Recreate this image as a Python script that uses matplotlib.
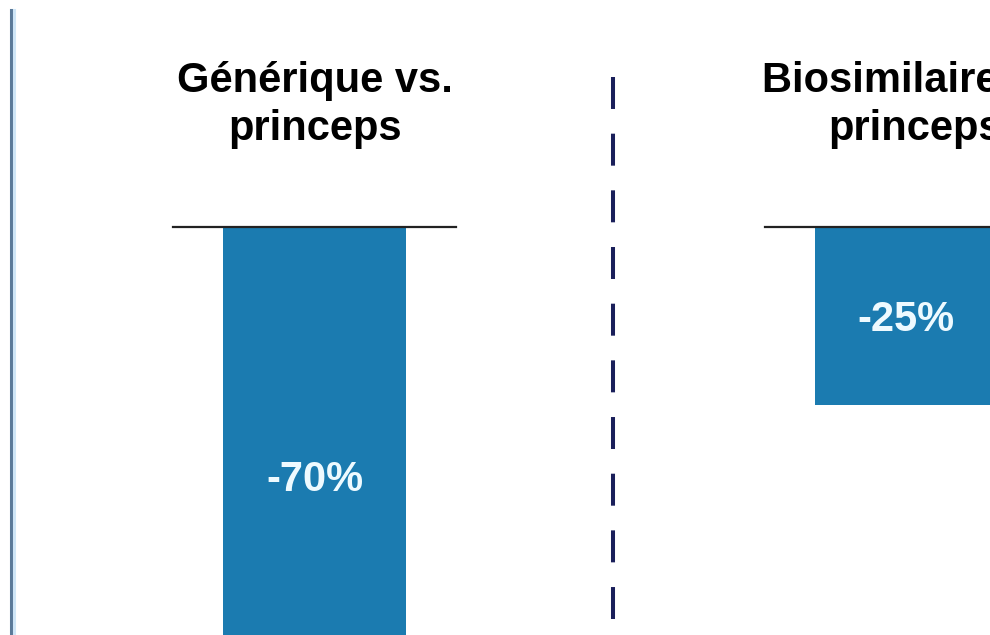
import matplotlib
matplotlib.use("Agg")
import matplotlib.pyplot as plt
from matplotlib.lines import Line2D

plt.rcParams['font.family'] = ['Liberation Sans', 'DejaVu Sans']

# écart de prix par rapport au princeps
categories = ["Générique vs.\nprinceps", "Biosimilaire vs.\nprinceps"]
ecarts = [-70, -25]
positions = [0, 1]

bar_color = '#1b7bb0'
dash_color = '#1a1f5a'

fig = plt.figure(figsize=(9.9, 6.35), dpi=100, facecolor='white')
ax = fig.add_axes([0, 0, 1, 1])
ax.set_xlim(-0.532, 1.142)
ax.set_ylim(-57.3, 31.9)
ax.axis('off')

bar_w = 0.309
line_half = 0.239
title_dx = [0, 0.015]
ax.bar(positions, ecarts, width=bar_w, color=bar_color, zorder=2)

for x, v, cat, dx in zip(positions, ecarts, categories, title_dx):
    # trait de référence à 0
    ax.plot([x - line_half, x + line_half], [0, 0], color='#222222', lw=1.6, zorder=3)
    # valeur au milieu de la barre (ligne de base décalée d'une demi-hauteur de chiffre)
    ax.text(x, v / 2 - 2.1, f"{v}%", ha='center', va='baseline', color='#eefaff',
            fontsize=30, fontweight='bold', zorder=4)
    # titre du groupe (ligne de base de la dernière ligne)
    ax.text(x + dx, 12.2, cat, ha='center', va='baseline', color='black',
            fontsize=30, fontweight='bold', linespacing=1.26)

# séparateur pointillé entre les deux groupes
ax.plot([0.5047, 0.5047], [21.1, -55.1], color=dash_color, lw=2.9,
        linestyle=(0, (7.94, 6.13)), solid_capstyle='butt', dash_capstyle='butt')

# filet vertical à gauche
fig.add_artist(Line2D([10.5 / 990, 10.5 / 990], [0, 1 - 10 / 635],
                      transform=fig.transFigure, color='#5b7a99', lw=2.2))
fig.add_artist(Line2D([13.5 / 990, 13.5 / 990], [0, 1 - 10 / 635],
                      transform=fig.transFigure, color='#cfe6f7', lw=2.2))

fig.savefig('out.png', dpi=100, facecolor='white')
